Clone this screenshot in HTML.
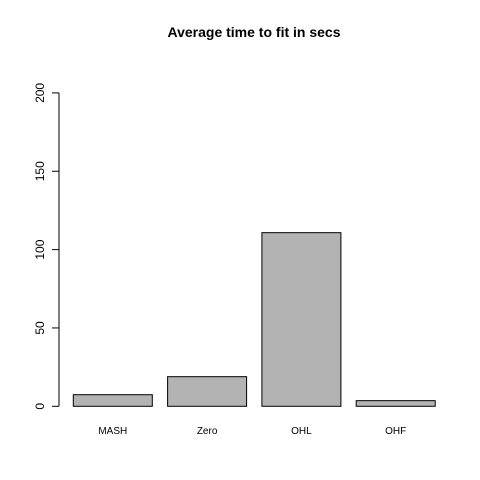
<!DOCTYPE html>
<html><head><meta charset="utf-8"><style>
body{margin:0;background:#fff;}
svg{display:block;font-family:"Liberation Sans",Arial,sans-serif;}
</style></head><body>
<svg id="chart" width="480" height="480" viewBox="0 0 480 480">
<text x="254" y="37" text-anchor="middle" font-size="14" font-weight="bold">Average time to fit in secs</text>
<g id="yaxis"></g>
<g id="bars"></g>
</svg>
<script>
const categories=["MASH","Zero","OHL","OHF"];
const values=[7.4,18.9,110.8,3.6];
const yTicks=[0,50,100,150,200];
const NS="http://www.w3.org/2000/svg";
const y0=406.3,pxPerUnit=1.567;
function y(v){return y0-v*pxPerUnit;}
function x(i){return 73.3+i*94.3;}
const bw=79;
function mk(t,a){const e=document.createElementNS(NS,t);for(const k in a)e.setAttribute(k,a[k]);return e;}
const ya=document.getElementById('yaxis');
const axl=mk('line',{x1:59,x2:59,y1:y(0),y2:y(200),stroke:'#000','stroke-width':1});


ya.appendChild(axl);
yTicks.forEach(t=>{
 const l=mk('line',{x1:52,x2:59,y1:y(t),y2:y(t),stroke:'#000','stroke-width':1});
 
 
 ya.appendChild(l);
 const tx=mk('text',{x:0,y:0,'font-size':12,'text-anchor':'middle',transform:`translate(44,${y(t)}) rotate(-90)`});
 tx.textContent=t;
 
 
 ya.appendChild(tx);
});
const bg=document.getElementById('bars');
values.forEach((v,i)=>{
 const r=mk('rect',{x:x(i),y:y(v),width:bw,height:y(0)-y(v),fill:'#b3b3b3',stroke:'#000','stroke-width':1});
 
 
 bg.appendChild(r);
 const tx=mk('text',{x:x(i)+bw/2,y:434,'font-size':10,'text-anchor':'middle'});
 tx.textContent=categories[i];
 
 
 bg.appendChild(tx);
});
</script>
</body></html>
